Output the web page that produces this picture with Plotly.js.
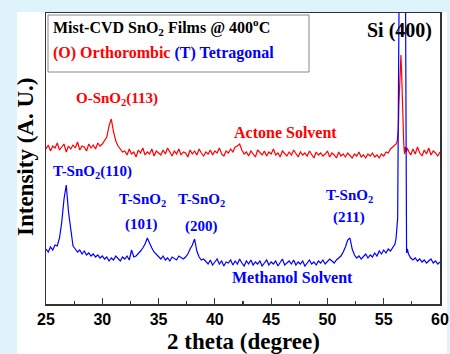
<!DOCTYPE html>
<html>
<head>
<meta charset="utf-8">
<script src="https://cdn.plot.ly/plotly-3.0.1.min.js"></script>
<style>
  html, body { margin: 0; padding: 0; width: 450px; height: 354px; background: #dff3fa; overflow: hidden; }
  #chart { position: absolute; left: 17px; top: 12px; width: 430px; height: 342px; }
  #chart .main-svg { overflow: visible; }
</style>
</head>
<body>
<div id="chart"></div>
<script>
// 2-theta grid (degrees), 25.0 .. 60.0 in 0.2 steps
const twoTheta = Array.from({length: 176}, (_, i) => +(25 + 0.2 * i).toFixed(1));

// Acetone solvent film (arbitrary units), null where the Si detail replaces the grid
const acetone = [
  155,159,153,158,156,161,154,157,160,152,158,155,159,156,162,154,158,157,153,160,156,159,155,161,158,
  160,163,167,178,185,172,163,158,155,152,
  153,149,155,150,152,147,154,151,156,149,
  152,150,155,148,153,151,149,154,150,156,
  152,148,153,150,155,149,152,151,147,154,
  150,153,149,155,151,148,152,150,154,149,
  153,151,156,150,148,153,151,155,152,157,
  158,160,154,150,
  152,148,153,150,147,154,151,149,153,148,
  152,150,155,149,151,147,153,150,148,152,
  149,154,150,147,152,149,151,148,153,150,
  146,152,149,151,148,150,153,147,151,149,
  146,152,148,150,147,151,149,146,150,148,
  152,147,149,146,150,148,151,147,149,146,
  150,148,152,151,155,157,158,
  null,null,null,null,null,
  153,149,155,150,157,151,148,154,150,156,149,153,151,148,152
];

// Methanol solvent film (arbitrary units)
const methanol = [
  55,52,57,54,59,58,66,82,105,119,92,72,58,55,52,54,50,53,49,51,48,50,47,49,46,
  48,45,47,43,46,44,48,45,43,47,
  45,48,44,54,47,48,50,53,56,60,
  66,60,56,52,50,47,
  45,48,44,46,43,47,45,44,48,46,
  45,47,50,55,59,65,53,47,44,45,
  43,40,44,39,42,45,40,43,38,42,
  41,44,39,43,40,45,41,38,43,40,
  44,39,42,40,43,38,41,44,39,42,
  40,43,38,42,45,39,41,43,40,44,
  39,42,40,43,38,41,44,40,42,39,
  43,41,44,40,42,45,43,41,44,46,
  48,52,57,64,66,55,49,46,48,45,
  47,50,46,49,47,51,48,53,50,54,51,55,53,57,60,
  null,null,null,null,null,
  50,46,44,46,43,45,42,44,41,43,45,41,43,40,42
];

// Si (400) substrate peak, finer detail
const siAcetoneX = [56.1, 56.2, 56.3, 56.35, 56.42, 56.48, 56.53, 56.58, 56.64, 56.7, 56.78, 56.85, 56.92, 57.0, 57.1];
const siAcetoneY = [160, 163, 175, 200, 222, 240, 249, 235, 204, 175, 160, 150, 157, 152, 156];
const siMethanolX = [56.1, 56.17, 56.24, 56.36, 56.45, 56.66, 56.85, 56.94, 56.97, 57.03, 57.1];
const siMethanolY = [66, 74, 86, 300, 2000, 3500, 2000, 300, 57, 51, 55];

const xTickVals = [25, 30, 35, 40, 45, 50, 55, 60];

function build(gridY, dx, dy) {
  const pts = [];
  twoTheta.forEach((x, i) => { if (gridY[i] !== null) pts.push([x, gridY[i]]); });
  dx.forEach((x, i) => pts.push([x, dy[i]]));
  pts.sort((a, b) => a[0] - b[0]);
  return { x: pts.map(p => p[0]), y: pts.map(p => p[1]) };
}

const red = build(acetone, siAcetoneX, siAcetoneY);
const blue = build(methanol, siMethanolX, siMethanolY);

const serif = 'Liberation Serif, Times New Roman, serif';
const sans = 'Liberation Sans, Arial, sans-serif';
const RED = '#ff0000', BLUE = '#0000ff';

// plot area: x 46..440, y 13..304 in page pixels
const PL = 46, PR = 440, PT = 13, PB = 304;
const px = v => (v - PL) / (PR - PL);
const py = v => (PB - v) / (PB - PT);

function ann(text, x, y, color, size, xanchor) {
  return {
    text: text, xref: 'paper', yref: 'paper', x: px(x), y: py(y),
    xanchor: xanchor || 'center', yanchor: 'middle', showarrow: false,
    font: { family: serif, size: size, color: color, weight: 700 }
  };
}

const traces = [
  { x: red.x, y: red.y, type: 'scatter', mode: 'lines', line: { color: RED, width: 1.2 }, hoverinfo: 'skip' },
  { x: blue.x, y: blue.y, type: 'scatter', mode: 'lines', line: { color: BLUE, width: 1.2 }, hoverinfo: 'skip' }
];

const layout = {
  width: 430, height: 342,
  margin: { l: 29, r: 7, t: 1, b: 50 },
  paper_bgcolor: '#ffffff', plot_bgcolor: '#ffffff',
  showlegend: false,
  xaxis: {
    range: [25, 60], tickvals: xTickVals, ticktext: xTickVals.map(String),
    ticks: 'inside', ticklen: 6, tickwidth: 1.2, tickcolor: '#333',
    minor: { dtick: 2.5, ticks: 'inside', ticklen: 3, tickwidth: 1.2, tickcolor: '#333' },
    showgrid: false, zeroline: false,
    showline: true, linecolor: '#333', linewidth: 1.5, mirror: true,
    ticklabeloverflow: 'allow',
    tickfont: { family: sans, size: 16, color: '#000', weight: 700 },
    title: { text: '' }
  },
  yaxis: {
    range: [0, 291], showticklabels: false, ticks: '', showgrid: false, zeroline: false,
    showline: true, linecolor: '#333', linewidth: 1.5, mirror: true
  },
  shapes: [
    { type: 'rect', xref: 'paper', yref: 'paper', x0: px(48), x1: px(309), y0: py(72), y1: py(15),
      line: { color: '#888', width: 1 }, fillcolor: 'rgba(0,0,0,0)' }
  ],
  annotations: [
    ann('Mist-CVD SnO<sub>2</sub> Films @ 400<sup>o</sup>C', 51, 27, '#000', 16, 'left'),
    { text: '<span style="color:#ff0000">(O) Orthorombic</span> <span style="color:#0000ff">(T) Tetragonal</span>',
      xref: 'paper', yref: 'paper', x: px(51), y: py(53), xanchor: 'left', yanchor: 'middle', showarrow: false,
      font: { family: serif, size: 16, color: '#000', weight: 700 } },
    ann('Si (400)', 434, 30, '#000', 20, 'right'),
    ann('O-SnO<sub>2</sub>(113)', 116.5, 99, RED, 15),
    ann('Actone Solvent', 285, 132, RED, 16),
    ann('T-SnO<sub>2</sub>(110)', 92.5, 172, BLUE, 15),
    ann('T-SnO<sub>2</sub>', 142.5, 200, BLUE, 15),
    ann('(101)', 141.5, 224, BLUE, 15),
    ann('T-SnO<sub>2</sub>', 201.5, 200, BLUE, 15),
    ann('(200)', 201, 226, BLUE, 15),
    ann('T-SnO<sub>2</sub>', 349, 196, BLUE, 15),
    ann('(211)', 349, 218, BLUE, 15),
    ann('Methanol Solvent', 292.5, 277.5, BLUE, 16),
    { text: 'Intensity (A. U.)', xref: 'paper', yref: 'paper', x: px(25), y: py(157),
      xanchor: 'center', yanchor: 'middle', textangle: -90, showarrow: false,
      font: { family: serif, size: 23, color: '#000', weight: 700 } },
    { text: '2 theta (degree)', xref: 'paper', yref: 'paper', x: px(243.5), y: py(341),
      xanchor: 'center', yanchor: 'middle', showarrow: false,
      font: { family: serif, size: 23, color: '#000', weight: 700 } }
  ]
};

Plotly.newPlot('chart', traces, layout, { staticPlot: true, displayModeBar: false });
</script>
</body>
</html>
